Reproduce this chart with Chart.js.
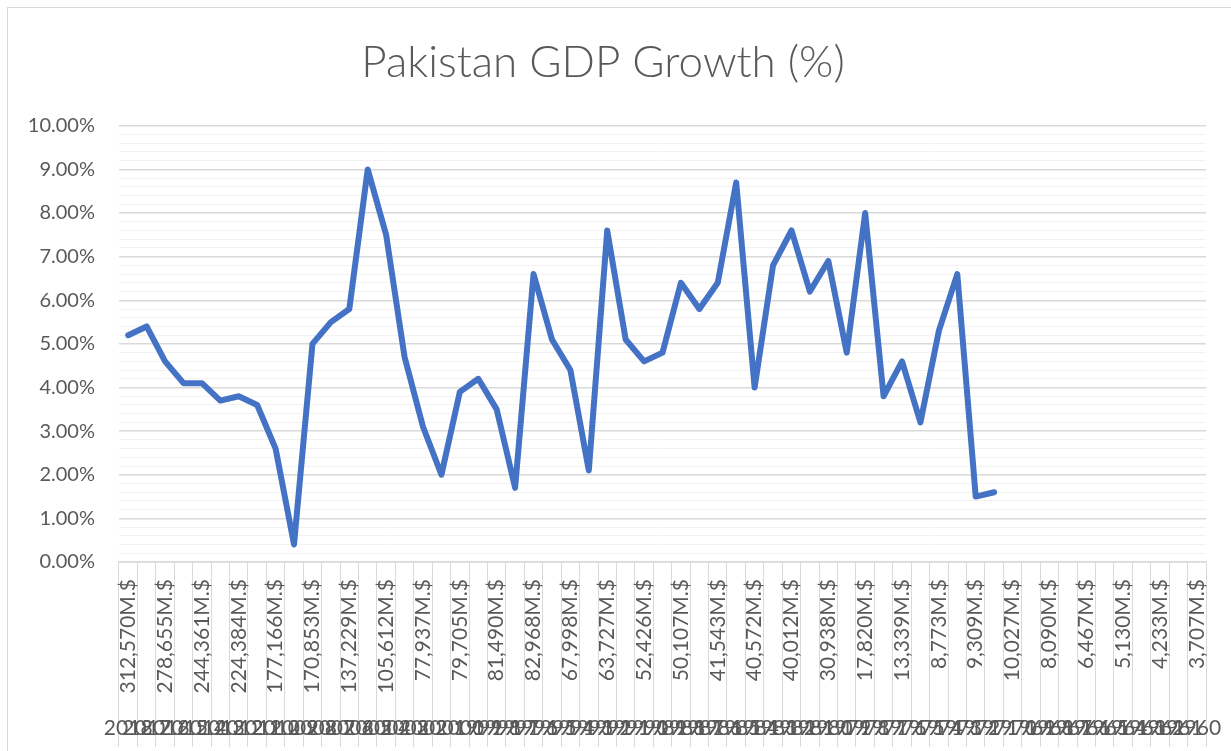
<!DOCTYPE html>
<html>
<head>
<meta charset="utf-8">
<title>Pakistan GDP Growth (%)</title>
<script src="https://cdn.jsdelivr.net/npm/chart.js@4"></script>
<style>
  html, body { margin: 0; padding: 0; background: #fff; overflow: hidden; }
  #wrap { position: relative; width: 1231px; height: 751px; }
  #frame { position: absolute; left: 7px; top: 7px; width: 1300px; height: 800px; border: 1px solid #d9d9d9; }
  #box { position: absolute; left: 0; top: 0; width: 1231px; height: 751px; }
</style>
</head>
<body>
<div id="wrap">
  <div id="frame"></div>
  <div id="box"><canvas id="chart"></canvas></div>
</div>
<script>
// Years (outer category level), newest first
const years = [];
for (let y = 2018; y >= 1960; y--) years.push(String(y));

// GDP labels (inner level) - only every other one is shown on the axis
const gdpShown = [
  '312,570M.$', '278,655M.$', '244,361M.$', '224,384M.$', '177,166M.$',
  '170,853M.$', '137,229M.$', '105,612M.$', '77,937M.$', '79,705M.$',
  '81,490M.$', '82,968M.$', '67,998M.$', '63,727M.$', '52,426M.$',
  '50,107M.$', '41,543M.$', '40,572M.$', '40,012M.$', '30,938M.$',
  '17,820M.$', '13,339M.$', '8,773M.$', '9,309M.$', '10,027M.$',
  '8,090M.$', '6,467M.$', '5,130M.$', '4,233M.$', '3,707M.$'
];

// GDP growth in %, 2018 back to 1971
const growth = [
  5.2, 5.4, 4.6, 4.1, 4.1, 3.7, 3.8, 3.6, 2.6, 0.4,
  5.0, 5.5, 5.8, 9.0, 7.5, 4.7, 3.1, 2.0, 3.9, 4.2,
  3.5, 1.7, 6.6, 5.1, 4.4, 2.1, 7.6, 5.1, 4.6, 4.8,
  6.4, 5.8, 6.4, 8.7, 4.0, 6.8, 7.6, 6.2, 6.9, 4.8,
  8.0, 3.8, 4.6, 3.2, 5.3, 6.6, 1.5, 1.6
];

const gdpLabels = years.map((y, i) => (i % 2 === 0 ? gdpShown[i / 2] : ''));

const textColor = '#595959';
const isMajor = (v) => Math.abs(Math.round(v) - v) < 1e-6;

const ctx = document.getElementById('chart').getContext('2d');
new Chart(ctx, {
  type: 'line',
  data: {
    datasets: [
      {
        label: 'GDP Growth',
        data: growth,
        borderColor: '#4472C4',
        borderWidth: 6,
        borderCapStyle: 'round',
        borderJoinStyle: 'round',
        pointRadius: 0,
        tension: 0,
        fill: false,
        xAxisID: 'x',
        yAxisID: 'y',
      },
    ],
  },
  options: {
    responsive: true,
    maintainAspectRatio: false,
    animation: false,
    events: [],
    layout: { padding: { left: 0, right: 25, top: 0, bottom: 9 } },
    plugins: {
      legend: { display: false },
      tooltip: { enabled: false },
      title: {
        display: true,
        text: 'Pakistan GDP Growth (%)',
        color: textColor,
        font: { family: 'Lato', size: 44, weight: '300', lineHeight: 1.2 },
        padding: { top: 36, bottom: 37 },
      },
    },
    scales: {
      x: {
        type: 'category',
        labels: gdpLabels,
        position: 'bottom',
        offset: true,
        grid: {
          offset: true,
          drawOnChartArea: false,
          drawTicks: true,
          tickLength: 185,
          color: '#d9d9d9',
          lineWidth: 1,
        },
        border: { display: true, color: '#d9d9d9', width: 1.5 },
        ticks: {
          autoSkip: false,
          minRotation: 90,
          maxRotation: 90,
          padding: -168,
          color: textColor,
          font: { family: 'Lato', size: 21 },
        },
        afterFit: (scale) => { scale.height = 150; },
      },
      x2: {
        type: 'category',
        labels: years,
        position: 'bottom',
        offset: true,
        grid: { display: false, drawTicks: false },
        border: { display: false },
        ticks: {
          autoSkip: false,
          minRotation: 0,
          maxRotation: 0,
          padding: 4,
          color: textColor,
          font: { family: 'Lato', size: 21 },
        },
        afterFit: (scale) => { scale.height = 30; },
      },
      y: {
        min: 0,
        max: 10,
        border: { display: false },
        grid: {
          drawTicks: false,
          color: (c) => (isMajor(c.tick.value) ? '#d9d9d9' : '#f2f2f2'),
          lineWidth: (c) => (isMajor(c.tick.value) ? 1.5 : 1),
        },
        ticks: {
          stepSize: 0.2,
          autoSkip: false,
          padding: 24,
          color: textColor,
          font: { family: 'Lato', size: 20 },
          callback: (v) => (isMajor(v) ? Number(v).toFixed(2) + '%' : ''),
        },
        afterFit: (scale) => { scale.width = 119; },
      },
    },
  },
});
</script>
</body>
</html>
